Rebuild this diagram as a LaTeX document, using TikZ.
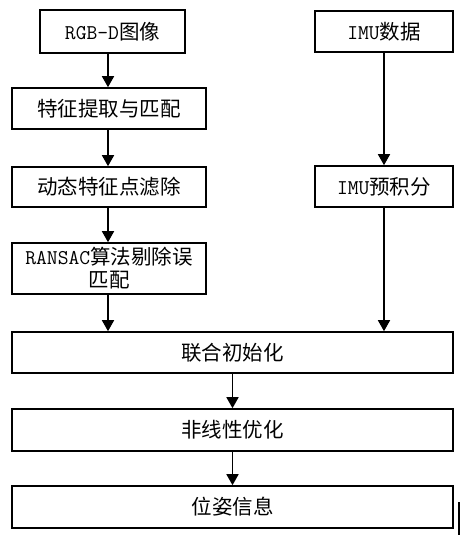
\documentclass[tikz,border=0pt]{standalone}
\usepackage{fontspec}
\newfontfamily\cjk{Noto Sans CJK SC}
\usetikzlibrary{arrows.meta}
\begin{document}
\begin{tikzpicture}[x=1pt,y=-1pt,
  box/.style={draw=black,line width=1.6pt,fill=white,inner sep=0pt,align=center,
    font=\fontsize{20.5}{23}\selectfont\cjk},
  flow/.style={line width=1.6pt,-{Triangle[length=11pt,width=12pt]}}]
\useasboundingbox (0,0) rectangle (460,535);
\node[box,minimum width=145pt,minimum height=43pt] (rgb) at (112.5,31.5) {{\ttfamily\fontsize{21}{23}\selectfont RGB-D}图像};
\node[box,minimum width=194pt,minimum height=41pt] (feat) at (109,108.5) {特征提取与匹配};
\node[box,minimum width=194pt,minimum height=40pt] (dyn) at (109,187) {动态特征点滤除};
\node[box,minimum width=194pt,minimum height=51pt] (ransac) at (109,268.5) {{\ttfamily\fontsize{21}{23}\selectfont RANSAC}算法剔除误\\匹配};
\node[box,minimum width=138pt,minimum height=41pt] (imu) at (384,31.5) {{\ttfamily\fontsize{21}{23}\selectfont IMU}数据};
\node[box,minimum width=138pt,minimum height=41pt] (imupre) at (384,186.5) {{\ttfamily\fontsize{21}{23}\selectfont IMU}预积分};
\node[box,minimum width=441pt,minimum height=41pt] (joint) at (232.5,352.5) {联合初始化};
\node[box,minimum width=441pt,minimum height=42pt] (nlo) at (232.5,430) {非线性优化};
\node[box,minimum width=441pt,minimum height=42pt] (pose) at (232.5,507) {位姿信息};
\coordinate (mark1) at (459,502);
\coordinate (mark2) at (459,535);
\draw[flow] (rgb.south -| 108,0) -- (feat.north -| 108,0);
\draw[flow] (feat.south -| 108,0) -- (dyn.north -| 108,0);
\draw[flow] (dyn.south -| 108,0) -- (ransac.north -| 108,0);
\draw[flow] (ransac.south -| 108,0) -- (joint.north -| 108,0);
\draw[flow] (imu.south) -- (imupre.north);
\draw[flow] (imupre.south) -- (joint.north -| imupre.south);
\draw[flow] (joint.south) -- (nlo.north);
\draw[flow] (nlo.south) -- (pose.north);
\draw[line width=1.4pt] (mark1) -- (mark2);
\end{tikzpicture}
\end{document}
